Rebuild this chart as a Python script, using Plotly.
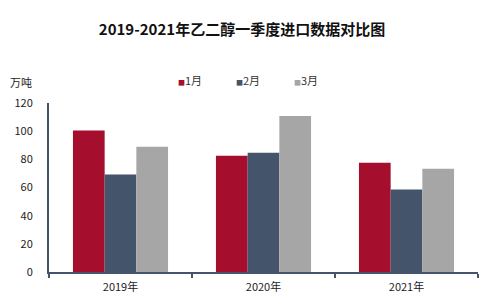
import plotly.graph_objects as go

years = ["2019年", "2020年", "2021年"]
months = ["1月", "2月", "3月"]
values = {
    "1月": [100.5, 82.6, 77.6],
    "2月": [69.2, 84.7, 58.6],
    "3月": [89.0, 110.8, 73.4],
}
colors = {"1月": "#A50E2D", "2月": "#44546A", "3月": "#A6A6A6"}
y_ticks = [0, 20, 40, 60, 80, 100, 120]

fig = go.Figure()
for m in months:
    fig.add_trace(go.Bar(x=years, y=values[m], name=m, marker_color=colors[m],
                         marker_line_width=0, showlegend=False))

L, R, T, B = 49, 6, 103, 30
W, H = 484, 302
pw, ph = W - L - R, H - T - B

fig.update_layout(
    width=W, height=H,
    margin=dict(l=L, r=R, t=T, b=B),
    paper_bgcolor="white", plot_bgcolor="white",
    barmode="group", bargap=0.335, bargroupgap=0,
    font=dict(family="Noto Sans CJK SC, sans-serif", size=11, color="#222"),
    title=dict(text="<b>2019-2021年乙二醇一季度进口数据对比图</b>",
               x=0.5, xanchor="center", y=0.9, yanchor="middle",
               font=dict(size=15, color="#111", family="Noto Sans CJK SC, serif")),
)
fig.update_xaxes(showline=True, linecolor="#44546A", linewidth=2,
                 ticks="outside", tickson="boundaries", ticklen=4,
                 tickcolor="#44546A", tickwidth=1.5, showgrid=False,
                 tickfont=dict(size=11), ticklabelstandoff=4)
fig.update_yaxes(range=[0, 120], tickvals=y_ticks, showline=True,
                 linecolor="#44546A", linewidth=2, showgrid=False,
                 ticks="", zeroline=False, tickfont=dict(size=11),
                 ticklabelstandoff=12)

# legend drawn as text annotations
legend_x = [176, 234, 292]
for m, lx in zip(months, legend_x):
    fig.add_annotation(
        text=f"<span style='color:{colors[m]};font-size:7px'>■</span>{m}",
        xref="paper", yref="paper",
        x=(lx - L) / pw, y=(H - B - 80) / ph,
        xanchor="left", yanchor="middle", showarrow=False,
        font=dict(size=11, color="#333"))

fig.add_annotation(text="万吨", xref="paper", yref="paper",
                   x=(21 - L) / pw, y=(H - B - 82) / ph,
                   xanchor="center", yanchor="middle", showarrow=False,
                   font=dict(size=11, color="#222"))
fig.write_html("out.html")
